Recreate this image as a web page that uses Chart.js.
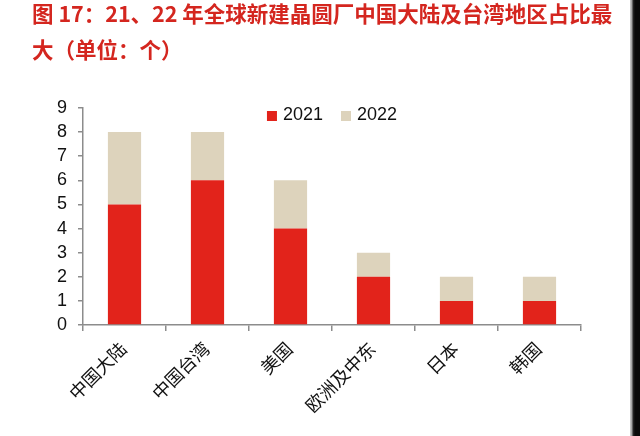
<!DOCTYPE html>
<html lang="zh">
<head>
    <meta charset="UTF-8">
    <title>全球新建晶圆厂</title>
    <style>
        html, body { margin: 0; padding: 0; background: #fff; }
        #wrap { position: relative; width: 640px; height: 436px; overflow: hidden; }
        #title {
            position: absolute; left: 32px; top: -5px; white-space: nowrap;
            font-family: 'Noto Sans CJK SC', sans-serif; font-weight: bold;
            font-size: 21.5px; line-height: 36px; color: #d4261f;
        }
        #edge {
            position: absolute; right: 0; top: 0; width: 10px; height: 436px;
            background: linear-gradient(to right, #d0d0d0 0px, #9a9a9a 2px, #2a2a2a 3px, #0a0a0a 5px, #0a0a0a 10px);
        }
        #chart-container { position: absolute; left: 0; top: 0; width: 640px; height: 436px; }
    </style>
</head>
<body>
<div id="wrap">
    <div id="chart-container">
        <canvas id="myChart"></canvas>
    </div>
    <div id="title">图 17：21、22 年全球新建晶圆厂中国大陆及台湾地区占比最<br>大（单位：个）</div>
    <div id="edge"></div>
</div>
<script src="https://cdn.jsdelivr.net/npm/chart.js"></script>
<script>
    // data
    const regions = ['中国大陆', '中国台湾', '美国', '欧洲及中东', '日本', '韩国'];
    const fabs2021 = [5, 6, 4, 2, 1, 1];
    const fabs2022 = [3, 2, 2, 1, 1, 1];

    const axisGray = '#8c8c8c';
    const font = "'Liberation Sans', 'Noto Sans CJK SC', sans-serif";

    // horizontal legend drawn inside the top of the plot area
    const innerLegend = {
        id: 'innerLegend',
        afterDraw(chart) {
            const c = chart.ctx, area = chart.chartArea;
            const box = 10, gap = 6, itemGap = 18;
            c.save();
            c.font = '18px ' + font;
            c.textBaseline = 'middle';
            const items = chart.data.datasets.map(ds => ({ label: ds.label, color: ds.backgroundColor, w: c.measureText(ds.label).width }));
            const total = items.reduce((s, it) => s + box + gap + it.w, 0) + itemGap * (items.length - 1);
            let x = (area.left + area.right) / 2 - total / 2;
            const y = area.top + 7;
            items.forEach(it => {
                c.fillStyle = it.color;
                c.fillRect(x, y - box / 2 + 1, box, box);
                c.fillStyle = '#111';
                c.fillText(it.label, x + box + gap, y);
                x += box + gap + it.w + itemGap;
            });
            c.restore();
        }
    };

    const ctx = document.getElementById('myChart').getContext('2d');
    new Chart(ctx, {
        type: 'bar',
        data: {
            labels: regions,
            datasets: [
                { label: '2021', data: fabs2021, backgroundColor: '#e2231b' },
                { label: '2022', data: fabs2022, backgroundColor: '#ddd3bc' }
            ]
        },
        options: {
            responsive: true,
            maintainAspectRatio: false,
            animation: false,
            layout: { padding: { top: 108, right: 59, left: 0, bottom: 0 } },
            categoryPercentage: 1,
            barPercentage: 0.4,
            plugins: {
                legend: { display: false },
                tooltip: { enabled: false }
            },
            scales: {
                x: {
                    stacked: true,
                    afterFit: scale => { scale.height = 111; },
                    border: { display: true, color: axisGray, width: 1.5 },
                    grid: { display: true, drawOnChartArea: false, drawTicks: true, tickLength: 6, color: axisGray, lineWidth: 1.5, offset: true },
                    ticks: {
                        color: '#111', maxRotation: 45, minRotation: 45, padding: 8,
                        autoSkip: false,
                        font: { family: font, size: 18 }
                    }
                },
                y: {
                    stacked: true,
                    min: 0, max: 9,
                    afterFit: scale => { scale.width = 83; },
                    border: { display: true, color: axisGray, width: 1.5 },
                    grid: { display: true, drawOnChartArea: false, drawTicks: true, tickLength: 5, color: axisGray, lineWidth: 1.5 },
                    ticks: {
                        stepSize: 1, color: '#111', padding: 11,
                        autoSkip: false,
                        font: { family: font, size: 18 }
                    }
                }
            }
        },
        plugins: [innerLegend]
    });
</script>
</body>
</html>
